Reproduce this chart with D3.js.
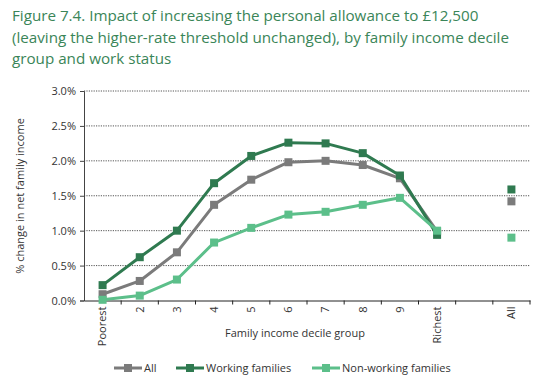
<!DOCTYPE html>
<html><head><meta charset="utf-8">
<script src="https://cdn.jsdelivr.net/npm/d3@7"></script>
<style>body{margin:0;background:#fff;}svg{display:block;}</style>
</head><body>
<svg id="c" width="538" height="381"></svg>
<script>
const categories = ["Poorest","2","3","4","5","6","7","8","9","Richest","","All"];
const seriesNames = ["All","Working families","Non-working families"];
const allValues = [0.09,0.28,0.69,1.37,1.73,1.98,2.00,1.94,1.75,0.99,null,1.42];
const workingValues = [0.22,0.62,1.00,1.68,2.07,2.26,2.25,2.11,1.79,0.94,null,1.59];
const nonWorkingValues = [0.01,0.07,0.30,0.83,1.04,1.23,1.27,1.37,1.47,1.00,null,0.90];
const yTicks = [0,0.5,1.0,1.5,2.0,2.5,3.0];
const colors = ["#7b7b7b","#2f7a50","#5cbf8a"];

const svg = d3.select("#c");
const font = "'Open Sans', 'Noto Sans', sans-serif";
const L = 84, R = 530, T = 91, B = 300.5;

// title
const titleLines = ["Figure 7.4. Impact of increasing the personal allowance to £12,500",
  "(leaving the higher-rate threshold unchanged), by family income decile",
  "group and work status"];
svg.selectAll("text.title").data(titleLines).join("text")
  .attr("x", 12).attr("y", (d,i)=>21 + i*21.5)
  .attr("font-family", font).attr("font-size", 15.2).attr("fill", "#3a8558")
  .text(d=>d);

const x = d3.scaleBand().domain(d3.range(categories.length)).range([L, R]);
const y = d3.scaleLinear().domain([0, 3]).range([B, T]);

// grid
svg.append("g").selectAll("line").data(yTicks.filter(d=>d>0)).join("line")
  .attr("x1", L).attr("x2", R).attr("y1", d=>y(d)).attr("y2", d=>y(d))
  .attr("stroke", "#555").attr("stroke-width", 1).attr("stroke-dasharray", "1.2,1.2");

// y axis
const ya = svg.append("g").attr("transform", `translate(${L},0)`)
  .call(d3.axisLeft(y).tickValues(yTicks).tickFormat(d=>d.toFixed(1)+"%").tickSize(4).tickPadding(4));
ya.select(".domain").attr("stroke", "#444");
ya.selectAll(".tick line").attr("stroke", "#444");
ya.selectAll("text").attr("font-family", font).attr("font-size", 11).attr("fill", "#333");

// x axis
const xa = svg.append("g").attr("transform", `translate(0,${B})`)
  .call(d3.axisBottom(x).tickFormat(i=>categories[i]).tickSize(0));
xa.select(".domain").attr("stroke", "#222");
xa.selectAll(".tick text").attr("font-family", font).attr("font-size", 11).attr("fill", "#333")
  .attr("transform", "rotate(-90)").attr("text-anchor", "end")
  .attr("x", -6).attr("y", 0).attr("dy", "0.35em");
// tick marks at band boundaries
const bounds = d3.range(1, categories.length + 1).map(i => L + i * x.step());
xa.append("g").selectAll("line").data(bounds).join("line")
  .attr("x1", d=>d).attr("x2", d=>d).attr("y1", 0).attr("y2", 4).attr("stroke", "#222");

// axis titles
svg.append("text").attr("x", 295).attr("y", 337).attr("text-anchor", "middle")
  .attr("font-family", font).attr("font-size", 11).attr("fill", "#333").text("Family income decile group");
svg.append("text").attr("transform", "translate(24,196) rotate(-90)").attr("text-anchor", "middle")
  .attr("font-family", font).attr("font-size", 11).attr("fill", "#333").text("% change in net family income");

const series = [allValues, workingValues, nonWorkingValues];
const order = [0, 1, 2];
const line = d3.line().defined(d=>d.v!=null).x(d=>x(d.i)+x.bandwidth()/2).y(d=>y(d.v));
order.forEach(s => {
  const pts = series[s].map((v,i)=>({v,i}));
  const linePts = pts.slice(0, 10);
  svg.append("path").datum(linePts).attr("d", line).attr("fill", "none")
    .attr("stroke", colors[s]).attr("stroke-width", 3).attr("stroke-linejoin", "round");
  svg.append("g").selectAll("rect").data(pts.filter(d=>d.v!=null)).join("rect")
    .attr("x", d=>x(d.i)+x.bandwidth()/2-4).attr("y", d=>y(d.v)-4)
    .attr("width", 8).attr("height", 8).attr("fill", colors[s]);
});

// legend
const legX = [114, 176, 312];
const lg = svg.append("g");
seriesNames.forEach((n, s) => {
  const g = lg.append("g").attr("transform", `translate(${legX[s]},368)`);
  g.append("line").attr("x1", 0).attr("x2", 28).attr("stroke", colors[s]).attr("stroke-width", 3);
  g.append("rect").attr("x", 10).attr("y", -4).attr("width", 8).attr("height", 8).attr("fill", colors[s]);
  g.append("text").attr("x", 30).attr("y", 0).attr("dy", "0.35em")
    .attr("font-family", font).attr("font-size", 11).attr("fill", "#333").text(n);
});
</script>
</body></html>
